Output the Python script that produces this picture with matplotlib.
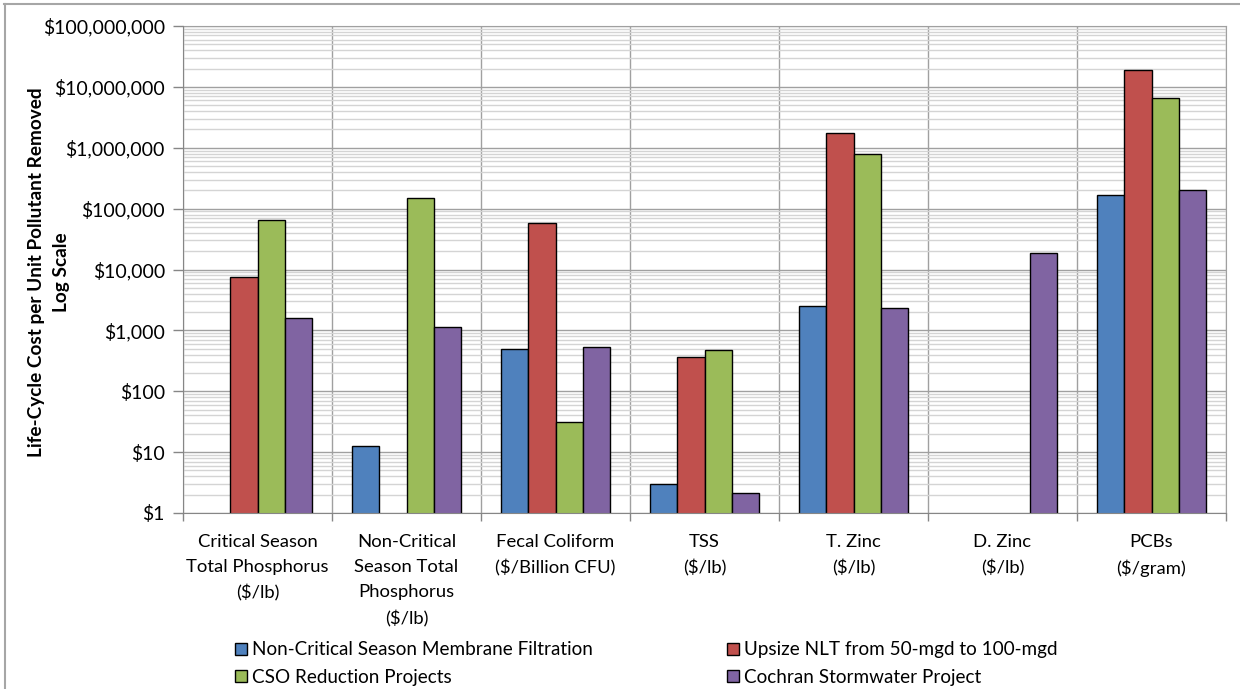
import matplotlib
matplotlib.use("Agg")
import numpy as np
import matplotlib.pyplot as plt
from matplotlib.ticker import FuncFormatter, LogLocator, NullFormatter, FixedLocator
from matplotlib.patches import Patch
from matplotlib.lines import Line2D

plt.rcParams['font.family'] = ['Lato', 'DejaVu Sans']

categories = [
    "Critical Season\nTotal Phosphorus\n($/lb)",
    "Non-Critical\nSeason Total\nPhosphorus\n($/lb)",
    "Fecal Coliform\n($/Billion CFU)",
    "TSS\n($/lb)",
    "T. Zinc\n($/lb)",
    "D. Zinc\n($/lb)",
    "PCBs\n($/gram)",
]
series_names = [
    "Non-Critical Season Membrane Filtration",
    "Upsize NLT from 50-mgd to 100-mgd",
    "CSO Reduction Projects",
    "Cochran Stormwater Project",
]
nan = np.nan
membrane_filtration = [nan, 12.6, 500, 2.97, 2545, nan, 167000]
upsize_nlt = [7550, nan, 57700, 364, 1730000, nan, 19200000]
cso_reduction = [65600, 150600, 31, 476, 784000, nan, 6470000]
cochran_stormwater = [1600, 1150, 527, 2.1, 2327, 18500, 200000]
series_values = [membrane_filtration, upsize_nlt, cso_reduction, cochran_stormwater]
colors = ["#4F81BD", "#C0504D", "#9BBB59", "#8064A2"]

W, H = 1240, 689
fig = plt.figure(figsize=(W / 100, H / 100), dpi=100)
ax = fig.add_axes([183 / W, 1 - 513 / H, (1226 - 183) / W, (513 - 26) / H])

x = np.arange(len(categories))
bw = 1 / 5.42
offsets = np.array([-1.5, -0.5, 0.5, 1.5]) * bw
for vals, off, col, name in zip(series_values, offsets, colors, series_names):
    ax.bar(x + off, vals, width=bw, color=col, edgecolor="black", linewidth=1.0,
           label=name, zorder=3)

ax.set_yscale("log")
ax.set_ylim(1, 1e8)
ax.set_xlim(-0.5, len(categories) - 0.5)

ax.yaxis.set_major_locator(LogLocator(base=10, numticks=20))
ax.yaxis.set_minor_locator(LogLocator(base=10, subs=np.arange(2, 10), numticks=20))
ax.yaxis.set_minor_formatter(NullFormatter())
ax.yaxis.set_major_formatter(FuncFormatter(lambda v, p: "${:,.0f}".format(v)))
ax.grid(which="major", axis="y", color="#a0a0a0", linewidth=1.0, zorder=0)
ax.grid(which="minor", axis="y", color="#d4d4d4", linewidth=1.0, zorder=0)

ax.set_xticks(x)
ax.set_xticklabels(categories, linespacing=1.7)
ax.xaxis.set_minor_locator(FixedLocator(np.arange(-0.5, len(categories), 1.0)))
ax.grid(which="minor", axis="x", color="#a0a0a0", linewidth=1.0, zorder=1)
ax.tick_params(axis="x", which="major", length=0, pad=15, labelsize=13.3)
ax.tick_params(axis="x", which="minor", length=6, color="#868686", width=1)
ax.tick_params(axis="y", which="major", length=7, color="#868686", width=1,
               pad=6, labelsize=14)
ax.tick_params(axis="y", which="minor", length=0)

for side in ["left", "bottom"]:
    ax.spines[side].set_color("#868686")
    ax.spines[side].set_zorder(4)
for side in ["top", "right"]:
    ax.spines[side].set_color("#a0a0a0")

# two-line axis title, one text per line
fig.text(37 / W, 1 - 272 / H, "Life-Cycle Cost per Unit Pollutant Removed",
         rotation=90, ha="center", va="center", fontsize=13.7, fontweight="bold")
fig.text(62 / W, 1 - 272 / H, "Log Scale",
         rotation=90, ha="center", va="center", fontsize=13.7, fontweight="bold")

# legend entries laid out row by row (column-major fill order)
order = [0, 2, 1, 3]
handles = [Patch(facecolor=colors[i], edgecolor="black", linewidth=1.0) for i in order]
labels = [series_names[i] for i in order]
fig.legend(handles, labels, loc="upper left",
           bbox_to_anchor=(222 / W, 1 - 628 / H), ncol=2, frameon=False,
           fontsize=13.6, handlelength=0.6, handleheight=0.6, handletextpad=0.3,
           columnspacing=7.1, labelspacing=0.55, borderpad=0.2)

# thin frame around the chart area
fig.add_artist(Line2D([4 / W, 1], [1 - 4 / H, 1 - 4 / H], color="#a6a6a6", linewidth=1.5))
fig.add_artist(Line2D([4.5 / W, 4.5 / W], [0, 1 - 4 / H], color="#a6a6a6", linewidth=1.5))

fig.savefig("out.png", dpi=100)
